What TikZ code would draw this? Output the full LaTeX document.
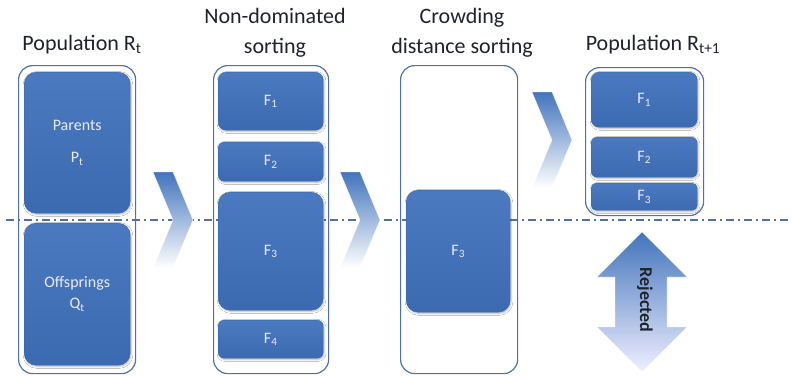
\documentclass[tikz,border=0pt]{standalone}
\usepackage{fontspec}
\setmainfont{Carlito}
\usepackage{tikz}
\usetikzlibrary{shadows.blur}
\usetikzlibrary{shapes}

\definecolor{blkblue}{RGB}{64,113,188}
\definecolor{blkedge}{RGB}{55,100,170}
\definecolor{frameblue}{RGB}{80,112,172}
\definecolor{chevblue}{RGB}{66,116,188}
\definecolor{titlegray}{RGB}{30,34,42}

\begin{document}
\begin{tikzpicture}[x=1pt,y=1pt,yscale=-1,xscale=1,
  frame/.style={draw=frameblue,line width=1.2pt,fill=white,rounded corners=14pt,anchor=north west,inner sep=0pt},
  blk/.style={draw=blkedge,line width=0.4pt,top color=blkblue!94!white,bottom color=blkblue!94!black,
    rounded corners=8pt,anchor=north west,inner sep=0pt,align=center,text=white!92!blue,
    font=\fontsize{16}{19}\selectfont,blur shadow={shadow blur steps=5,shadow xshift=0.8pt,shadow yshift=-1.2pt,shadow opacity=30}},
  title/.style={align=center,text=titlegray,font=\fontsize{22}{30}\selectfont},
  divider/.style={draw=frameblue,line width=1.4pt,dash pattern=on 8pt off 4pt on 2pt off 4pt}
]
\useasboundingbox (0,0) rectangle (792,375);

% Text Node
\node[title] (tpopR) at (82,45) {Population R\textsubscript{t}};
% Text Node
\node[title] (tnds) at (275,33) {Non-dominated\\sorting};
% Text Node
\node[title] (tcds) at (462,33) {Crowding\\distance sorting};
% Text Node
\node[title] (tpopN) at (653,45) {Population R\textsubscript{t+1}};

% Frames
\node[frame,minimum width=117pt,minimum height=308pt] (frR) at (18,65) {};
\node[frame,minimum width=115pt,minimum height=308pt] (frNds) at (213,65) {};
\node[frame,minimum width=117pt,minimum height=308pt] (frCds) at (400,65) {};
\node[frame,minimum width=118pt,minimum height=148pt] (frN) at (585,67) {};

% Dash-dot divider
\coordinate (divL) at (6,220);
\coordinate (divR) at (790,220);
\draw[divider] (divL) -- (divR);

% Population R_t
\node[blk,rounded corners=12pt,minimum width=106pt,minimum height=141pt] (par) at (24,72) {Parents\\[13pt]P\textsubscript{t}};
\node[blk,rounded corners=12pt,minimum width=106pt,minimum height=142pt] (off) at (24,223) {Offsprings\\[2pt]Q\textsubscript{t}};

% Non-dominated sorting
\node[blk,minimum width=105pt,minimum height=58pt] (ndsA) at (218,72) {F\textsubscript{1}};
\node[blk,rounded corners=6pt,minimum width=105pt,minimum height=39pt] (ndsB) at (218,142) {F\textsubscript{2}};
\node[blk,rounded corners=12pt,minimum width=105pt,minimum height=118pt] (ndsC) at (218,192) {F\textsubscript{3}};
\node[blk,rounded corners=6pt,minimum width=105pt,minimum height=38pt] (ndsD) at (218,320) {F\textsubscript{4}};

% Crowding distance sorting
\node[blk,rounded corners=12pt,minimum width=104pt,minimum height=122pt] (cdsC) at (406,190) {F\textsubscript{3}};

% Population R_t+1
\node[blk,minimum width=106pt,minimum height=55pt] (newA) at (591,72) {F\textsubscript{1}};
\node[blk,rounded corners=6pt,minimum width=106pt,minimum height=40pt] (newB) at (591,137) {F\textsubscript{2}};
\node[blk,rounded corners=5pt,minimum width=106pt,minimum height=27pt] (newC) at (591,183) {F\textsubscript{3}};

% Chevrons
\foreach \cx/\cy in {153/172,340/172,532/92}
  \shade[top color=chevblue,bottom color=white,draw=white,line width=0.3pt]
    (\cx,\cy) -- ++(20,0) -- ++(20,48) -- ++(-20,48) -- ++(-20,0) -- ++(20,-48) -- cycle;

% Rejected arrow
\shade[top color=chevblue,bottom color=white!94!blue,draw=white,line width=0.3pt]
  (642,232) -- (687,277) -- (667,277) -- (667,327) -- (687,327) -- (642,372)
  -- (597,327) -- (615,327) -- (615,277) -- (597,277) -- cycle;
% Text Node
\node[rotate=-90,text=titlegray,font=\fontsize{18}{20}\selectfont\bfseries] (rej) at (645,300) {Rejected};

\end{tikzpicture}
\end{document}
